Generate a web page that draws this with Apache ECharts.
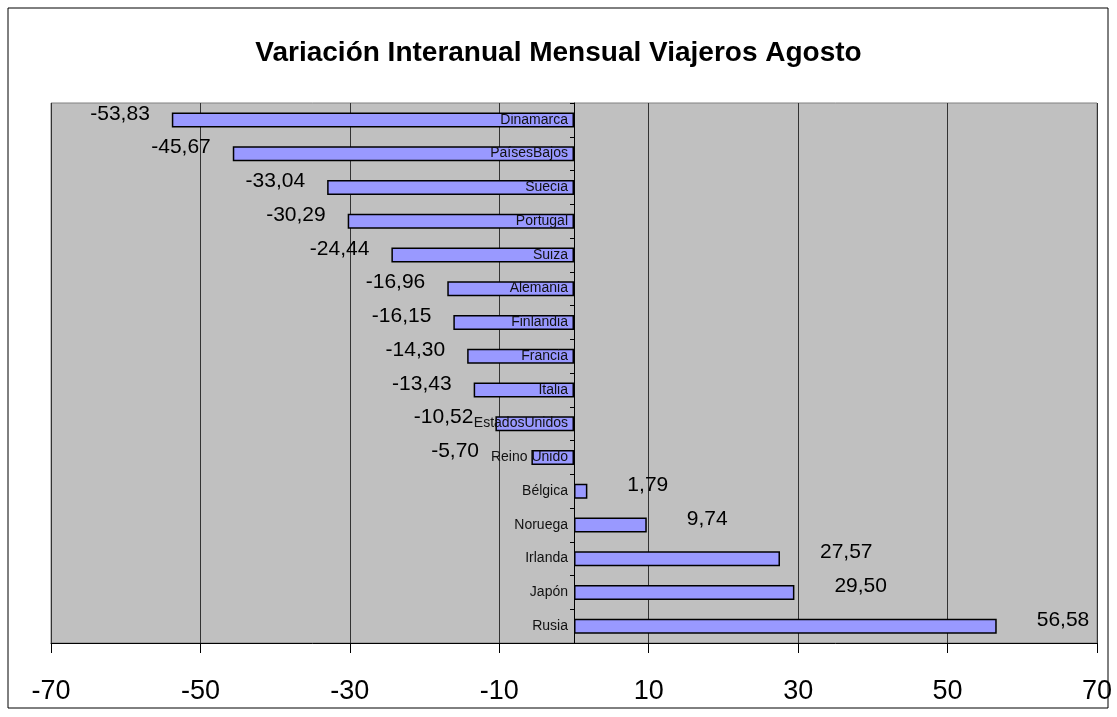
<!DOCTYPE html>
<html>
<head>
<meta charset="utf-8">
<script src="https://cdn.jsdelivr.net/npm/echarts@6/dist/echarts.min.js"></script>
<style>
  html, body { margin: 0; padding: 0; background: #fff; }
  #chart { width: 1117px; height: 717px; }
</style>
</head>
<body>
<div id="chart"></div>
<script>
// datos
var paises = ['Dinamarca', 'PaísesBajos', 'Suecia', 'Portugal', 'Suiza', 'Alemania',
  'Finlandia', 'Francia', 'Italia', 'EstadosUnidos', 'Reino Unido', 'Bélgica',
  'Noruega', 'Irlanda', 'Japón', 'Rusia'];
var variacion = [-53.83, -45.67, -33.04, -30.29, -24.44, -16.96, -16.15, -14.30,
  -13.43, -10.52, -5.70, 1.79, 9.74, 27.57, 29.50, 56.58];

var font = '"Liberation Sans", Arial, sans-serif';

var gridLeft = 51, gridRight = 20;
var plotW = 1117 - gridLeft - gridRight;
var pxPerUnit = plotW / 140;

var myChart = echarts.init(document.getElementById('chart'));

// las etiquetas de barras cortas negativas se apartan del nombre del pais
var barData = variacion.map(function (v) {
  return {
    value: v,
    label: v < 0
      ? { position: 'left', distance: Math.max(22, 95 - Math.abs(v) * pxPerUnit) }
      : { position: 'right', distance: 40 }
  };
});

var option = {
  animation: false,
  backgroundColor: '#fff',
  title: {
    text: 'Variación Interanual Mensual Viajeros Agosto',
    left: 'center',
    top: 34,
    textStyle: { fontFamily: font, fontSize: 28, fontWeight: 'bold', color: '#000' }
  },
  graphic: [{
    type: 'rect',
    shape: { x: 8, y: 8, width: 1100, height: 700 },
    style: { fill: 'none', stroke: '#000', lineWidth: 1 },
    silent: true
  }],
  grid: {
    left: gridLeft, right: gridRight, top: 103, bottom: 74,
    containLabel: false,
    outerBoundsMode: 'none',
    show: true,
    backgroundColor: '#c0c0c0',
    borderColor: '#808080',
    borderWidth: 1
  },
  xAxis: {
    type: 'value',
    min: -70,
    max: 70,
    interval: 20,
    axisLine: { show: true, onZero: false, lineStyle: { color: '#000', width: 1 } },
    axisTick: { show: true, length: 10, lineStyle: { color: '#000' } },
    axisLabel: { fontFamily: font, fontSize: 27, color: '#000', margin: 35 },
    splitLine: { show: true, lineStyle: { color: '#333', width: 1 } }
  },
  yAxis: {
    type: 'category',
    data: paises,
    inverse: true,
    z: 5,
    // eje vertical colocado sobre el cero
    offset: -plotW / 2,
    axisLine: { show: true, onZero: false, lineStyle: { color: '#000', width: 1 } },
    axisTick: { show: true, length: 4, lineStyle: { color: '#000' } },
    axisLabel: { fontFamily: font, fontSize: 14, color: '#111', margin: 6 },
    splitLine: { show: false }
  },
  series: [{
    type: 'bar',
    data: barData,
    barWidth: 15,
    itemStyle: { color: '#9999ff', borderColor: '#000', borderWidth: 1.5 },
    label: {
      show: true,
      fontFamily: font,
      fontSize: 21,
      color: '#000',
      offset: [0, -6],
      formatter: function (p) { return p.value.toFixed(2).replace('.', ','); }
    }
  }]
};

myChart.setOption(option);
</script>
</body>
</html>
